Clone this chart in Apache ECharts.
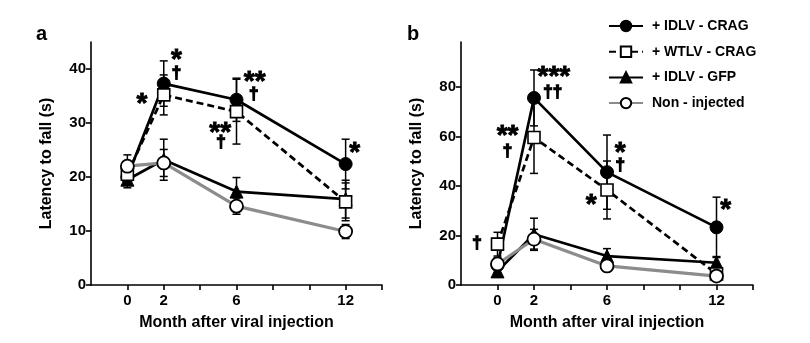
<!DOCTYPE html>
<html>
<head>
<meta charset="utf-8">
<script src="https://cdn.jsdelivr.net/npm/echarts@6/dist/echarts.min.js"></script>
<style>html,body{margin:0;padding:0;background:#fff}#c{width:810px;height:343px}</style>
</head>
<body>
<div id="c"></div>
<script>
// ---- data ----
const months = [0, 2, 6, 12];
const seriesNames = ['+ IDLV - CRAG', '+ WTLV - CRAG', '+ IDLV - GFP', 'Non - injected'];
const xTicks = [0, 2, 4, 6, 8, 10, 12, 14];
const xLabels = [0, 2, 6, 12];
const yTicksA = [0, 10, 20, 30, 40];
const yTicksB = [0, 20, 40, 60, 80];

// panel a
const aIdlvCrag = [20.0, 37.3, 34.3, 22.4];
const aIdlvCragErr = [1.5, 4.2, 4.0, 4.6];
const aWtlvCrag = [20.5, 35.2, 32.1, 15.4];
const aWtlvCragErr = [1.5, 3.7, 6.0, 3.5];
const aIdlvGfp = [19.5, 23.2, 17.3, 15.9];
const aIdlvGfpErr = [1.5, 3.8, 2.6, 3.5];
const aNonInj = [22.0, 22.6, 14.6, 9.9];
const aNonInjErr = [2.1, 2.5, 1.5, 1.3];

// panel b
const bIdlvCrag = [8.0, 75.6, 45.6, 23.3];
const bIdlvCragErr = [3.0, 11.3, 15.0, 12.2];
const bWtlvCrag = [16.5, 59.6, 38.4, 4.5];
const bWtlvCragErr = [4.8, 14.5, 11.7, 3.0];
const bIdlvGfp = [5.5, 20.5, 11.7, 9.0];
const bIdlvGfpErr = [1.5, 6.5, 3.0, 2.5];
const bNonInj = [8.5, 18.5, 7.7, 3.6];
const bNonInjErr = [1.5, 4.0, 1.5, 1.2];

// significance annotations [month, value, text]
const annotA = [[2.7, 43.0, '*'], [2.7, 39.3, '†'], [0.8, 34.8, '*'], [7.0, 38.8, '**'], [6.95, 35.5, '†'],
                [5.1, 29.4, '**'], [5.15, 26.6, '†'], [12.5, 25.6, '*']];
const annotB = [[3.09, 86.8, '***'], [3.03, 78.2, '††'], [0.55, 62.8, '**'], [0.55, 54.6, '†'],
                [6.73, 56.2, '*'], [6.73, 48.6, '†'], [5.13, 35.0, '*'], [12.5, 33.0, '*'], [-1.13, 17.3, '†']];

// ---- chart ----
const FONT = '"Liberation Sans", Arial, sans-serif';
const styles = [
  {symbol: 'circle', symbolSize: 13, itemStyle: {color: '#000', borderColor: '#000', borderWidth: 1}, lineStyle: {color: '#000', width: 2.7, type: 'solid'}, z: 3},
  {symbol: 'rect', symbolSize: 12, itemStyle: {color: '#fff', borderColor: '#000', borderWidth: 1.6}, lineStyle: {color: '#000', width: 2.7, type: [7, 4]}, z: 5},
  {symbol: 'triangle', symbolSize: 13, itemStyle: {color: '#000', borderColor: '#000', borderWidth: 1}, lineStyle: {color: '#000', width: 2.7, type: 'solid'}, z: 4},
  {symbol: 'circle', symbolSize: 13, itemStyle: {color: '#fff', borderColor: '#000', borderWidth: 1.8}, lineStyle: {color: '#8c8c8c', width: 3.2, type: 'solid'}, z: 6}
];

function lineSeries(name, idx, vals, axisIdx) {
  const s = styles[idx];
  return {
    name: name, type: 'line', xAxisIndex: axisIdx, yAxisIndex: axisIdx,
    data: months.map((m, i) => [m, vals[i]]),
    symbol: s.symbol, symbolSize: s.symbolSize, showAllSymbol: true,
    itemStyle: s.itemStyle, lineStyle: s.lineStyle, z: s.z,
    emphasis: {disabled: true}, animation: false
  };
}
function errSeries(vals, errs, axisIdx) {
  return {
    type: 'custom', xAxisIndex: axisIdx, yAxisIndex: axisIdx, z: 2, silent: true, animation: false,
    data: months.map((m, i) => [m, vals[i] - errs[i], vals[i] + errs[i]]),
    renderItem: function (params, api) {
      const lo = api.coord([api.value(0), api.value(1)]);
      const hi = api.coord([api.value(0), api.value(2)]);
      const w = 4;
      const st = {stroke: '#000', lineWidth: 1.5};
      return {type: 'group', children: [
        {type: 'line', shape: {x1: lo[0], y1: lo[1], x2: hi[0], y2: hi[1]}, style: st},
        {type: 'line', shape: {x1: lo[0] - w, y1: lo[1], x2: lo[0] + w, y2: lo[1]}, style: st},
        {type: 'line', shape: {x1: hi[0] - w, y1: hi[1], x2: hi[0] + w, y2: hi[1]}, style: st}
      ]};
    }
  };
}
function annotSeries(list, axisIdx) {
  return {
    type: 'scatter', xAxisIndex: axisIdx, yAxisIndex: axisIdx, symbolSize: 0, z: 10, silent: true, animation: false,
    itemStyle: {opacity: 1},
    data: list.map(a => ({value: [a[0], a[1]], name: a[2]})),
    label: {
      show: true, position: 'inside', color: '#000', opacity: 1, fontFamily: FONT, fontWeight: 'bold',
      textBorderColor: '#000', textBorderWidth: 0.8,
      formatter: p => p.name
    }
  };
}

const allSeries = [];
const panels = [
  [aIdlvCrag, aIdlvCragErr, aWtlvCrag, aWtlvCragErr, aIdlvGfp, aIdlvGfpErr, aNonInj, aNonInjErr],
  [bIdlvCrag, bIdlvCragErr, bWtlvCrag, bWtlvCragErr, bIdlvGfp, bIdlvGfpErr, bNonInj, bNonInjErr]
];
panels.forEach((p, ai) => {
  for (let k = 0; k < 4; k++) {
    allSeries.push(errSeries(p[2 * k], p[2 * k + 1], ai));
    allSeries.push(lineSeries(seriesNames[k], k, p[2 * k], ai));
  }
});
function splitAnnot(list, axisIdx) {
  const stars = list.filter(a => a[2].indexOf('*') >= 0);
  const dag = list.filter(a => a[2].indexOf('†') >= 0);
  const s1 = annotSeries(stars, axisIdx);
  s1.label.fontSize = 28; s1.label.offset = [0, 7];
  const s2 = annotSeries(dag, axisIdx);
  s2.label.fontSize = 17; s2.label.offset = [0, 1]; s2.label.textBorderWidth = 1.3;
  allSeries.push(s1, s2);
}
splitAnnot(annotA, 0);
splitAnnot(annotB, 1);

function xAxis(gi) {
  return {
    type: 'value', gridIndex: gi, min: -2, max: 14,
    name: 'Month after viral injection', nameLocation: 'middle', nameGap: 30,
    nameTextStyle: {fontFamily: FONT, fontWeight: 'bold', fontSize: 16, color: '#000'},
    axisLine: {onZero: false, lineStyle: {color: '#000', width: 1.6}},
    axisTick: {show: true, length: 5, lineStyle: {color: '#000', width: 1.6}, customValues: xTicks},
    axisLabel: {customValues: xLabels, fontFamily: FONT, fontWeight: 'bold', fontSize: 15, color: '#000', margin: 8},
    splitLine: {show: false}
  };
}
function yAxis(gi, max, ticks) {
  return {
    type: 'value', gridIndex: gi, min: 0, max: max,
    name: 'Latency to fall (s)', nameLocation: 'middle', nameGap: 36,
    nameTextStyle: {fontFamily: FONT, fontWeight: 'bold', fontSize: 16, color: '#000'},
    axisLine: {show: true, onZero: false, lineStyle: {color: '#000', width: 1.6}},
    axisTick: {show: true, length: 5, lineStyle: {color: '#000', width: 1.6}, customValues: ticks},
    axisLabel: {customValues: ticks, fontFamily: FONT, fontWeight: 'bold', fontSize: 15, color: '#000', margin: 5},
    splitLine: {show: false}
  };
}

const chart = echarts.init(document.getElementById('c'), null, {renderer: 'canvas'});
chart.setOption({
  backgroundColor: '#fff',
  animation: false,
  grid: [
    {left: 91, top: 42, width: 291, height: 243},
    {left: 461, top: 42, width: 292, height: 243}
  ],
  xAxis: [xAxis(0), xAxis(1)],
  yAxis: [yAxis(0, 45, yTicksA), yAxis(1, 98.2, yTicksB)],
  legend: {
    data: seriesNames, orient: 'vertical', left: 603, top: 14,
    itemWidth: 34, itemHeight: 13, itemGap: 11.7,
    textStyle: {fontFamily: FONT, fontWeight: 'bold', fontSize: 14, color: '#000', padding: [0, 0, 0, 4]},
    selectedMode: false
  },
  graphic: [
    {type: 'text', left: 36, top: 24, style: {text: 'a', fontFamily: FONT, fontWeight: 'bold', fontSize: 20, fill: '#000'}},
    {type: 'text', left: 407, top: 24, style: {text: 'b', fontFamily: FONT, fontWeight: 'bold', fontSize: 20, fill: '#000'}}
  ],
  series: allSeries
});
</script>
</body>
</html>
